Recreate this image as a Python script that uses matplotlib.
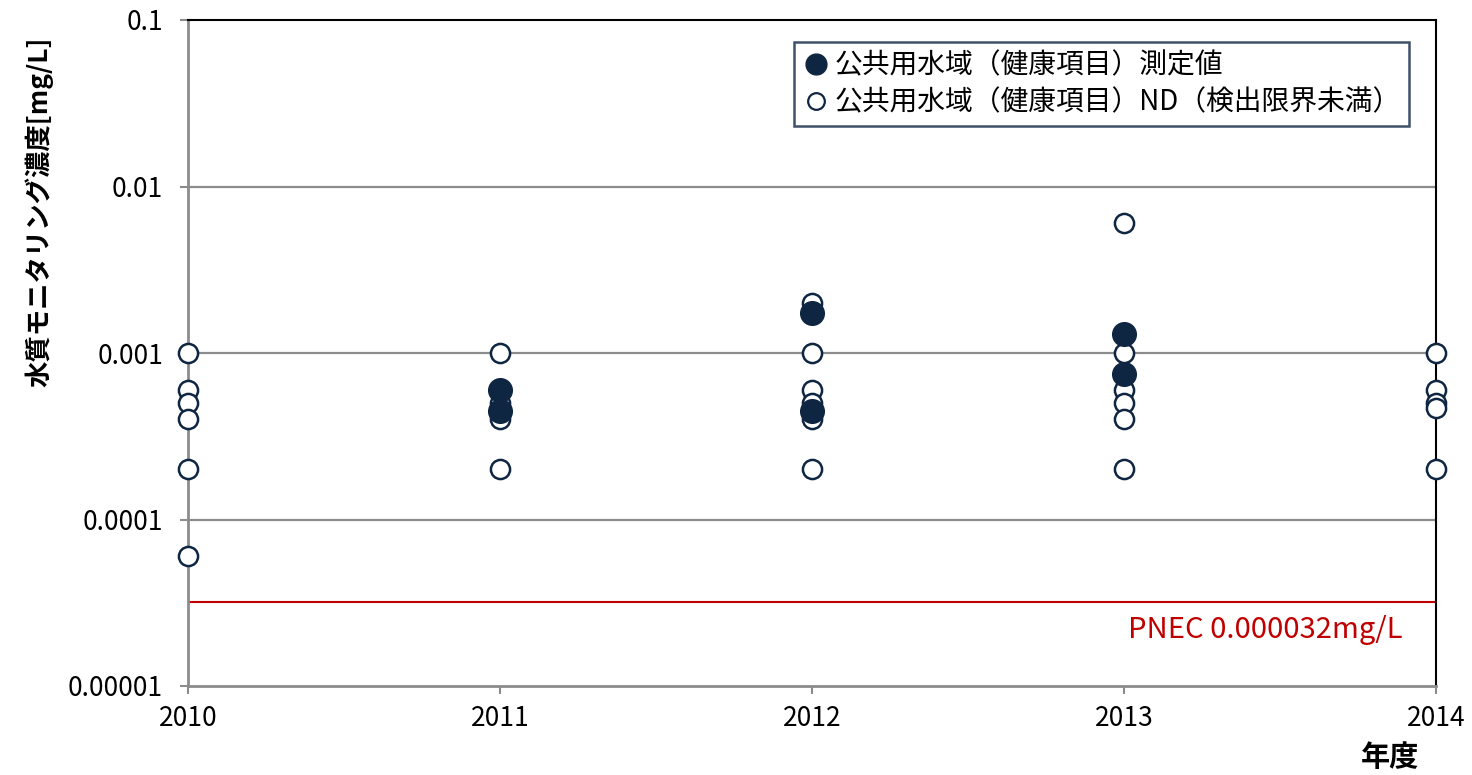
import matplotlib

matplotlib.use("Agg")
import matplotlib.pyplot as plt
from matplotlib.lines import Line2D

plt.rcParams["font.family"] = ["Noto Sans CJK JP", "DejaVu Sans"]

# measured values (filled markers)
detected_years = [2011, 2011, 2012, 2012, 2013, 2013]
detected_values = [0.0006, 0.00045, 0.00175, 0.00045, 0.0013, 0.00075]

# ND values (open markers, detection limits)
nd_years = [2010, 2010, 2010, 2010, 2010, 2010,
            2011, 2011, 2011, 2011,
            2012, 2012, 2012, 2012, 2012, 2012,
            2013, 2013, 2013, 2013, 2013, 2013,
            2014, 2014, 2014, 2014, 2014]
nd_values = [0.001, 0.0006, 0.0005, 0.0004, 0.0002, 0.00006,
             0.001, 0.0005, 0.0004, 0.0002,
             0.002, 0.001, 0.0006, 0.0005, 0.0004, 0.0002,
             0.006, 0.001, 0.0006, 0.0005, 0.0004, 0.0002,
             0.001, 0.0006, 0.0005, 0.00047, 0.0002]

pnec = 0.000032
year_ticks = [2010, 2011, 2012, 2013, 2014]
y_ticks = [0.00001, 0.0001, 0.001, 0.01, 0.1]
y_tick_labels = ["0.00001", "0.0001", "0.001", "0.01", "0.1"]

navy = "#0f2642"
grid_gray = "#8c8c8c"
red = "#c00000"

fig = plt.figure(figsize=(14.72, 7.75), dpi=100)
ax = fig.add_axes([188 / 1472, 89 / 775, (1436 - 188) / 1472, (686 - 20) / 775])

ax.set_yscale("log")
ax.set_ylim(1e-5, 0.1)
ax.set_xlim(2010, 2014)

for y in y_ticks[1:-1]:
    ax.axhline(y, color=grid_gray, lw=1.6, zorder=1)

ax.axhline(pnec, color=red, lw=1.5, zorder=2)
ax.text(1402 / 1472, (775 - 630) / 775, "PNEC 0.000032mg/L", transform=fig.transFigure,
        ha="right", va="center", color=red, fontsize=21)

ax.scatter(nd_years, nd_values, s=190, facecolors="white", edgecolors=navy,
           linewidths=1.8, zorder=3, clip_on=False)
ax.scatter(detected_years, detected_values, s=290, color=navy, zorder=4, clip_on=False)

ax.set_xticks(year_ticks)
ax.set_xticklabels([str(y) for y in year_ticks], fontsize=19)
ax.set_yticks(y_ticks)
ax.set_yticklabels(y_tick_labels, fontsize=19)
ax.yaxis.set_minor_locator(matplotlib.ticker.NullLocator())
ax.tick_params(axis="both", direction="out", length=6, width=1.5, color=grid_gray)
ax.tick_params(axis="y", pad=12)
ax.tick_params(axis="x", pad=8)

ax.spines["left"].set_color(grid_gray)
ax.spines["bottom"].set_color(grid_gray)
ax.spines["left"].set_linewidth(2)
ax.spines["bottom"].set_linewidth(2)
ax.spines["top"].set_color("black")
ax.spines["right"].set_color("black")
ax.spines["top"].set_linewidth(1.5)
ax.spines["right"].set_linewidth(1.5)

ax.set_ylabel("水質モニタリング濃度[mg/L]", fontsize=19, fontweight="bold")
ax.yaxis.set_label_coords(-0.108, 0.712)
fig.text(1390 / 1472, (775 - 757) / 775, "年度", ha="center", va="center",
         fontsize=21, fontweight="bold")

handles = [
    Line2D([], [], marker="o", linestyle="none", markersize=15, color=navy),
    Line2D([], [], marker="o", linestyle="none", markersize=12, markerfacecolor="white",
           markeredgecolor=navy, markeredgewidth=1.6),
]
labels = ["公共用水域（健康項目）測定値", "公共用水域（健康項目）ND（検出限界未満）"]
leg = ax.legend(handles, labels, loc="upper right",
                bbox_to_anchor=(1409 / 1472, (775 - 42) / 775), bbox_transform=fig.transFigure,
                fontsize=20, frameon=True, fancybox=False, handletextpad=0.15,
                handlelength=1.0, borderpad=0.3, labelspacing=0.25, borderaxespad=0)
leg.get_frame().set_edgecolor(navy)
leg.get_frame().set_linewidth(1.8)

fig.savefig("out.png", dpi=100)
